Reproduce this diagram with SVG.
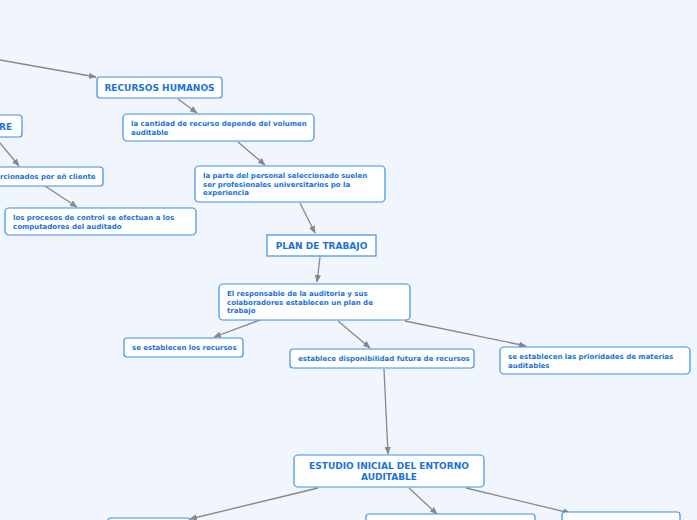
<svg xmlns="http://www.w3.org/2000/svg" width="697" height="520" viewBox="0 0 697 520">
<defs>
<marker id="a" viewBox="0 0 10 10" refX="9" refY="5" markerWidth="6" markerHeight="6" orient="auto"><path d="M0,1 L10,5 L0,9 z" fill="#888"/></marker>
<style>
.n{fill:#fff;stroke:#3d8fe8;stroke-width:1.2}
.t{font-family:"DejaVu Sans",sans-serif;font-weight:bold;fill:#1a73d9;font-size:7px}
.h{font-size:9px}
.c line{stroke:#888;stroke-width:1.3;marker-end:url(#a)}
</style>
</defs>
<rect width="697" height="520" fill="#f1f5fe"/>
<g class="c">
<line x1="0" y1="60" x2="96" y2="77"/>
<line x1="178" y1="99" x2="197" y2="113"/>
<line x1="238" y1="142" x2="265" y2="165"/>
<line x1="0" y1="143" x2="19" y2="166"/>
<line x1="45" y1="186" x2="77" y2="207"/>
<line x1="300" y1="203" x2="315" y2="233"/>
<line x1="320" y1="257" x2="317" y2="282"/>
<line x1="260" y1="320" x2="214" y2="337"/>
<line x1="338" y1="321" x2="370" y2="348"/>
<line x1="405" y1="321" x2="526" y2="346"/>
<line x1="384" y1="369" x2="388" y2="454"/>
<line x1="318" y1="488" x2="190" y2="519"/>
<line x1="409" y1="488" x2="437" y2="514"/>
<line x1="466" y1="488" x2="570" y2="513"/>
</g>
<g id="rh"><rect class="n" x="97" y="77" width="125" height="21" rx="3"/><text class="t h" x="159.5" y="91" text-anchor="middle">RECURSOS HUMANOS</text></g>
<g id="re"><rect class="n" x="-10" y="115" width="32" height="22" rx="3"/><text class="t h" x="-1" y="130">RE</text></g>
<g id="n1"><rect class="n" x="123" y="114" width="191" height="27" rx="4"/><text class="t" x="131" y="126">la cantidad de recurso depende del volumen</text><text class="t" x="131" y="135">auditable</text></g>
<g id="n2"><rect class="n" x="-10" y="167" width="113" height="19" rx="3"/><text class="t" x="0" y="179">rcionados por eñ cliente</text></g>
<g id="n3"><rect class="n" x="195" y="166" width="190" height="36" rx="4"/><text class="t" x="203" y="178">la parte del personal seleccionado suelen</text><text class="t" x="203" y="187">ser profesionales universitarios po la</text><text class="t" x="203" y="195">experiencia</text></g>
<g id="n4"><rect class="n" x="5" y="208" width="191" height="27" rx="4"/><text class="t" x="13" y="220">los procesos de control se efectuan a los</text><text class="t" x="13" y="229">computadores del auditado</text></g>
<g id="pt"><rect class="n" x="267" y="235" width="109" height="21"/><text class="t h" x="321.5" y="249" text-anchor="middle">PLAN DE TRABAJO</text></g>
<g id="n5"><rect class="n" x="219" y="284" width="191" height="36" rx="4"/><text class="t" x="227" y="296">El responsable de la auditoria y sus</text><text class="t" x="227" y="305">colaboradores establecen un plan de</text><text class="t" x="227" y="313">trabajo</text></g>
<g id="n6"><rect class="n" x="124" y="338" width="119" height="19" rx="3"/><text class="t" x="132" y="350">se establecen los recursos</text></g>
<g id="n7"><rect class="n" x="290" y="349" width="184" height="19" rx="3"/><text class="t" x="298" y="361">establece disponibilidad futura de recursos</text></g>
<g id="n8"><rect class="n" x="500" y="347" width="190" height="27" rx="4"/><text class="t" x="508" y="359">se establecen las prioridades de materias</text><text class="t" x="508" y="368">auditables</text></g>
<g id="es"><rect class="n" x="294" y="455" width="190" height="32" rx="4"/><text class="t h" x="389" y="469" text-anchor="middle">ESTUDIO INICIAL DEL ENTORNO</text><text class="t h" x="389" y="480" text-anchor="middle">AUDITABLE</text></g>
<g id="b1"><rect class="n" x="108" y="518" width="82" height="10" rx="3"/></g>
<g id="b2"><rect class="n" x="366" y="514" width="169" height="10" rx="3"/></g>
<g id="b3"><rect class="n" x="562" y="512" width="118" height="12" rx="3"/></g>
</svg>
